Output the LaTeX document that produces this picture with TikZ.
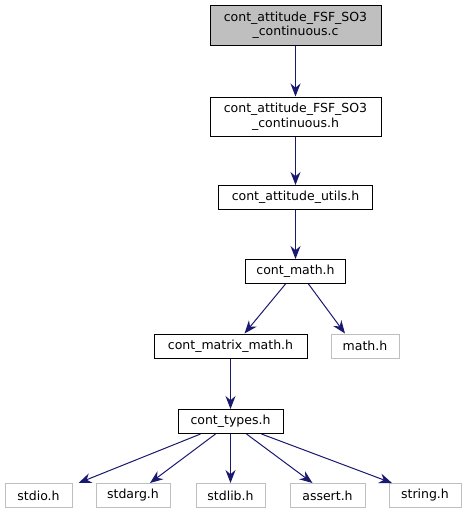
\documentclass[tikz,border=0pt]{standalone}
\usepackage{fontspec}
\setmainfont{DejaVu Sans}
\usetikzlibrary{arrows.meta}
\definecolor{edgeblue}{RGB}{25,25,112}
\definecolor{extgray}{RGB}{191,191,191}
\begin{document}
\begin{tikzpicture}[x=1pt,y=-1pt,
  box/.style={draw=black,fill=white,line width=1pt,inner sep=0pt,font=\fontsize{12.5}{14.5}\selectfont,align=center},
  ext/.style={draw=extgray,fill=white,line width=1pt,inner sep=0pt,font=\fontsize{12.5}{14.5}\selectfont,align=center},
  edge/.style={draw=edgeblue,line width=1pt,-{Stealth[length=13pt,width=10pt]}}]
\useasboundingbox (0,0) rectangle (466,515);
\node[box,fill=extgray,minimum width=171pt,minimum height=40pt] (c) at (295.5,25) {cont\_attitude\_FSF\_SO3\\\_continuous.c};
\node[box,minimum width=171pt,minimum height=39pt] (h) at (295.5,116.5) {cont\_attitude\_FSF\_SO3\\\_continuous.h};
\node[box,minimum width=154pt,minimum height=24pt] (utils) at (295.5,197.5) {cont\_attitude\_utils.h};
\node[box,minimum width=100pt,minimum height=24pt] (math) at (295.5,271.5) {cont\_math.h};
\node[box,minimum width=153pt,minimum height=24pt] (matrix) at (230.5,346) {cont\_matrix\_math.h};
\node[ext,minimum width=68pt,minimum height=24pt] (mathh) at (365,346) {math.h};
\node[box,minimum width=105pt,minimum height=24pt] (types) at (230.5,421.5) {cont\_types.h};
\node[ext,minimum width=67pt,minimum height=24pt] (stdio) at (38.5,495.5) {stdio.h};
\node[ext,minimum width=74pt,minimum height=24pt] (stdarg) at (133,495.5) {stdarg.h};
\node[ext,minimum width=69pt,minimum height=24pt] (stdlib) at (230.5,495.5) {stdlib.h};
\node[ext,minimum width=75pt,minimum height=24pt] (assert) at (327.5,495.5) {assert.h};
\node[ext,minimum width=72pt,minimum height=24pt] (string) at (425,495.5) {string.h};
\draw[edge] (c) -- (h);
\draw[edge] (h) -- (utils);
\draw[edge] (utils) -- (math);
\draw[edge] ([xshift=-10pt]math.south) -- ([xshift=14pt]matrix.north);
\draw[edge] ([xshift=13pt]math.south) -- ([xshift=-20pt]mathh.north);
\draw[edge] (matrix) -- (types);
\draw[edge] ([xshift=-30pt]types.south) -- ([xshift=40pt]stdio.north);
\draw[edge] ([xshift=-15pt]types.south) -- ([xshift=17pt]stdarg.north);
\draw[edge] (types.south) -- (stdlib.north);
\draw[edge] ([xshift=16pt]types.south) -- ([xshift=-15pt]assert.north);
\draw[edge] ([xshift=31pt]types.south) -- ([xshift=-33pt]string.north);
\end{tikzpicture}
\end{document}
